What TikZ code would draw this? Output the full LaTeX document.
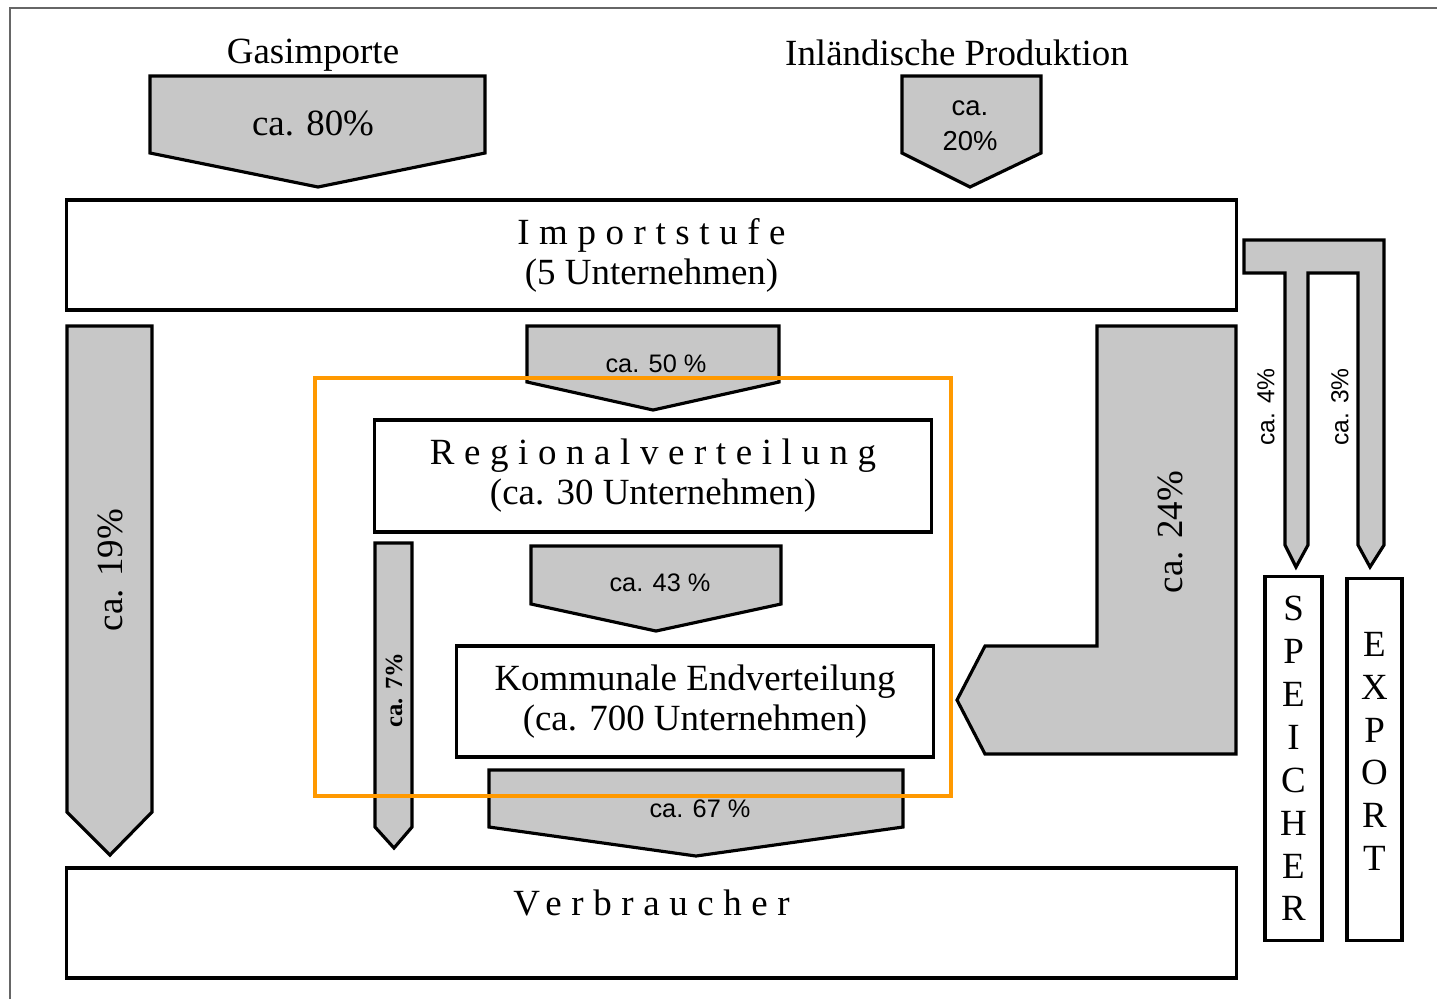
\documentclass[tikz,border=0pt]{standalone}
\usepackage{fontspec}
\setmainfont{Liberation Serif}
\setsansfont{Liberation Sans}
\newfontfamily\spaced[LetterSpace=26]{Liberation Serif}
\definecolor{markorange}{RGB}{255,153,0}
\tikzset{
  flow/.style={draw, line width=0.9pt, fill=black!22, line join=miter},
  box/.style={draw, line width=0.9pt, fill=white, align=center, inner sep=0pt,
    font=\fontsize{10.5}{11.4}\selectfont},
  pct/.style={font=\sffamily\fontsize{7.2}{9}\selectfont, inner sep=1pt, align=center},
  big/.style={font=\fontsize{10.5}{12}\selectfont, inner sep=1pt},
}

\begin{document}
\begin{tikzpicture}[x=0.01cm, y=-0.01cm]
\useasboundingbox (0,0) rectangle (1437,999);
\draw[black!60, line width=0.6pt] (10,999) -- (10,8) -- (1437,8);

% Zufluss
\draw[flow] (150,76) -- (485,76) -- (485,153) -- (318,187) -- (150,153) -- cycle;
\node[big] (gasimp) at (313,55) {Gasimporte};
\node[big] (p80) at (313,123) {ca. 80\%};
\draw[flow] (902,76) -- (1041,76) -- (1041,153) -- (970,187) -- (902,153) -- cycle;
\node[big] (inland) at (957,53) {Inländische Produktion};
\node[pct, font=\sffamily\fontsize{7.8}{10}\selectfont] (p20) at (970,126) {ca.\\20\%};

% Stufen
\node[box, minimum width=11.69cm, minimum height=1.10cm] (import) at (651.5,255)
  {{\spaced Importstufe}\\(5 Unternehmen)};
\node[box, minimum width=5.56cm, minimum height=1.12cm] (regio) at (653,476)
  {{\spaced Regionalverteilung}\\(ca. 30 Unternehmen)};
\node[box, minimum width=4.76cm, minimum height=1.11cm] (kommunal) at (695,701.5)
  {Kommunale Endverteilung\\(ca. 700 Unternehmen)};
\node[box, minimum width=11.69cm, minimum height=1.10cm] (verbr) at (651.5,923)
  {{\spaced Verbraucher}\\~};
\node[box, minimum width=0.57cm, minimum height=3.63cm, font=\fontsize{10.5}{12.2}\selectfont]
  (speicher) at (1293.5,758.5) {S\\P\\E\\I\\C\\H\\E\\R};
\node[box, minimum width=0.55cm, minimum height=3.61cm, font=\fontsize{10.5}{12.2}\selectfont]
  (export) at (1374.5,759.5) {E\\X\\P\\O\\R\\T\\[-7.6pt]\mbox{}};

% Abfluesse
\draw[flow] (67,326) -- (152,326) -- (152,812) -- (110,855) -- (67,812) -- cycle;
\node[big, rotate=90] (p19) at (110,570) {ca. 19\%};
\draw[flow] (527,326) -- (779,326) -- (779,382) -- (653,410) -- (527,382) -- cycle;
\node[pct] (p50) at (656,364) {ca. 50 \%};
\draw[flow] (375,543) -- (412,543) -- (412,827) -- (394,848) -- (375,827) -- cycle;
\node[pct, font=\bfseries\fontsize{7}{8}\selectfont, rotate=90] (p7) at (394,690) {ca. 7\%};
\draw[flow] (531,546) -- (781,546) -- (781,604) -- (656,631) -- (531,604) -- cycle;
\node[pct] (p43) at (660,583) {ca. 43 \%};
\draw[flow] (489,770) -- (903,770) -- (903,827) -- (696,856) -- (489,827) -- cycle;
\node[pct] (p67) at (700,809) {ca. 67 \%};
\draw[flow] (1097,326) -- (1236,326) -- (1236,754) -- (985,754) -- (957,700)
  -- (985,646) -- (1097,646) -- cycle;
\node[big, rotate=90] (p24) at (1170,532) {ca. 24\%};
\draw[flow] (1244,240) -- (1384,240) -- (1384,545) -- (1370,567) -- (1358,545)
  -- (1358,273) -- (1308,273) -- (1308,545) -- (1296,567) -- (1285,545)
  -- (1285,273) -- (1244,273) -- cycle;
\node[pct, font=\sffamily\fontsize{7}{8}\selectfont, rotate=90] (p4) at (1266,407) {ca. 4\%};
\node[pct, font=\sffamily\fontsize{7}{8}\selectfont, rotate=90] (p3) at (1340,407) {ca. 3\%};

% Markierung
\draw[markorange, line width=1.4pt] (315,378) rectangle (951,796);
\end{tikzpicture}
\end{document}
